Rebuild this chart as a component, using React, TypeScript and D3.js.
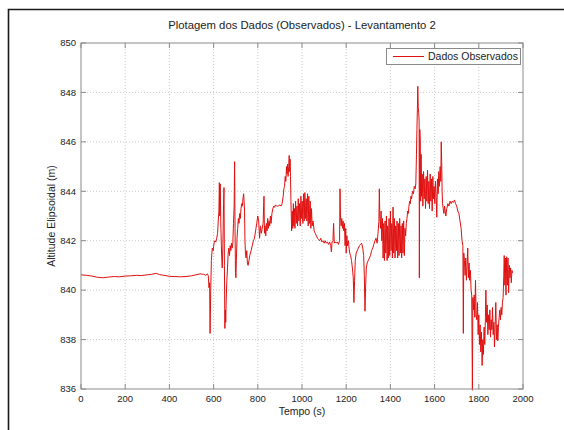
import React from "react";
import * as d3 from "d3";

const titleText = "Plotagem dos Dados (Observados) - Levantamento 2";
const xLabel = "Tempo (s)";
const yLabel = "Altitude Elipsoidal (m)";
const seriesName = "Dados Observados";

const xTicks = [0, 200, 400, 600, 800, 1000, 1200, 1400, 1600, 1800, 2000];
const yTicks = [836, 838, 840, 842, 844, 846, 848, 850];

const times = [
  0, 25, 50, 75, 100, 125, 150, 175, 200, 225, 250, 275, 300, 320, 340, 355, 375, 400, 425, 450, 475, 500, 520, 540, 555, 565, 572, 576, 579, 582, 584, 587, 590, 594, 598,
  602, 606, 610, 614, 618, 621, 624, 626, 628, 630, 633, 636, 639, 642, 645, 647, 649, 651, 653, 655, 657, 660, 663, 666, 669, 672, 675, 678, 681, 684, 687, 690, 693, 695, 697, 699,
  701, 703, 706, 709, 712, 715, 718, 721, 724, 727, 730, 733, 736, 738, 740, 742, 744, 747, 750, 753, 756, 760, 765, 770, 775, 780, 785, 790, 795,
  800, 804, 808, 812, 816, 820, 824, 828, 830, 833, 836, 839, 842, 845, 848, 851, 854, 857, 860, 864, 868, 872, 876, 880, 885, 890, 895,
  900, 905, 910, 915, 918, 921, 924, 927, 930, 932, 935, 937, 940, 942, 944, 946, 948, 950, 953, 956, 958, 961, 963, 966, 968, 971, 974, 977, 980, 983, 986, 989, 992, 995, 998,
  1001, 1004, 1007, 1010, 1013, 1016, 1019, 1022, 1025, 1028, 1031, 1034, 1037, 1040, 1043, 1046, 1050, 1055, 1060, 1065, 1070, 1075, 1080, 1085, 1090, 1095,
  1100, 1105, 1110, 1115, 1120, 1125, 1130, 1133, 1136, 1140, 1143, 1146, 1150, 1155, 1160, 1165, 1170, 1172, 1174, 1177, 1180, 1183, 1186, 1189, 1192, 1195, 1198,
  1200, 1203, 1206, 1210, 1213, 1216, 1220, 1224, 1228, 1232, 1235, 1238, 1241, 1245, 1250, 1255, 1260, 1265, 1270, 1275, 1279, 1282, 1285, 1288, 1291, 1295,
  1300, 1305, 1310, 1315, 1320, 1325, 1330, 1335, 1340, 1344, 1348, 1350, 1352, 1355, 1358, 1361, 1364, 1367, 1370, 1373, 1376, 1379, 1382, 1385, 1388, 1391, 1394, 1397,
  1400, 1403, 1406, 1409, 1412, 1415, 1418, 1421, 1424, 1427, 1430, 1433, 1436, 1439, 1442, 1445, 1448, 1451, 1454, 1457, 1460, 1463, 1466, 1469, 1472, 1475, 1478, 1481, 1484, 1487, 1490, 1493, 1496,
  1500, 1504, 1508, 1512, 1515, 1518, 1520, 1522, 1524, 1526, 1528, 1530, 1531, 1533, 1535, 1537, 1539, 1541, 1544, 1547, 1550, 1553, 1556, 1559, 1562, 1565, 1568, 1571, 1574, 1577, 1580, 1583, 1586, 1589, 1592, 1595, 1598,
  1601, 1604, 1607, 1610, 1613, 1616, 1619, 1622, 1625, 1628, 1630, 1632, 1634, 1636, 1639, 1642, 1645, 1648, 1651, 1655, 1660, 1665, 1670, 1675, 1680, 1685, 1690, 1695,
  1700, 1705, 1710, 1715, 1720, 1724, 1728, 1730, 1732, 1735, 1738, 1741, 1744, 1747, 1750, 1753, 1756, 1759, 1762, 1765, 1768, 1771, 1773, 1776, 1779, 1782, 1785, 1788, 1791, 1794, 1797,
  1800, 1803, 1806, 1809, 1812, 1815, 1818, 1821, 1824, 1827, 1830, 1832, 1835, 1838, 1841, 1844, 1847, 1850, 1853, 1856, 1859, 1862, 1865, 1868, 1871, 1874, 1877, 1880, 1883, 1886, 1889, 1892, 1895, 1898,
  1901, 1904, 1907, 1910, 1913, 1915, 1918, 1920, 1923, 1926, 1929, 1932, 1935, 1938, 1941, 1944, 1947, 1950, 1953,
];

const altitudes = [
  840.62, 840.6, 840.57, 840.52, 840.5, 840.53, 840.55, 840.54, 840.57, 840.58, 840.6, 840.59, 840.62, 840.64, 840.68, 840.63, 840.6, 840.56, 840.55, 840.54, 840.55, 840.58, 840.62, 840.66, 840.64, 840.6, 840.66, 840.58, 840.1, 840.3, 838.25, 840.0, 841.2, 841.7, 841.6,
  841.9, 842.0, 841.95, 842.1, 842.3, 842.8, 843.2, 844.35, 843.0, 844.3, 842.5, 841.5, 840.9, 841.8, 843.5, 844.15, 841.0, 838.45, 839.2, 838.7, 839.6, 840.4, 840.9, 841.5, 841.7, 841.4, 841.8, 841.6, 841.9, 841.7, 841.9, 842.7, 843.4, 845.2, 842.5, 840.7,
  840.5, 841.2, 842.1, 842.5, 842.9, 842.7, 843.1, 842.9, 843.3, 843.5, 843.4, 843.7, 843.9, 843.6, 843.2, 842.0, 841.5, 841.3, 841.6, 841.1, 841.0, 841.2, 841.45, 841.6, 841.8, 842.0, 842.1, 842.4, 842.7,
  843.0, 842.8, 842.1, 842.6, 842.3, 842.5, 842.7, 843.8, 842.3, 842.6, 842.2, 842.7, 842.4, 842.9, 842.5, 842.8, 842.6, 843.0, 842.7, 843.1, 843.3, 843.4, 843.35, 843.45, 843.4, 843.4, 843.42,
  843.45, 843.4, 843.5, 843.8, 844.1, 844.2, 844.6, 844.4, 845.0, 844.7, 845.1, 844.6, 845.0, 845.45, 844.8, 845.3, 844.6, 843.6, 842.4, 843.2, 842.5, 843.5, 842.6, 843.3, 842.5, 843.6, 842.7, 843.4, 842.6, 843.7, 842.8, 843.5, 842.6, 843.8, 842.9,
  843.6, 842.7, 843.9, 842.8, 843.95, 842.9, 843.7, 842.8, 843.9, 842.6, 843.8, 842.7, 843.6, 842.5, 843.3, 842.6, 842.8, 842.4, 842.3, 842.2, 842.1, 842.05, 842.0, 842.1, 841.95, 842.0,
  841.9, 842.0, 841.9, 841.95, 841.85, 841.95, 841.8, 841.55, 841.95, 842.0, 842.7, 841.9, 841.95, 841.9, 841.95, 841.85, 842.0, 844.1, 843.0, 842.6, 842.9, 842.5, 842.8, 842.4, 842.7, 841.8, 842.5,
  841.5, 842.2, 841.8, 842.0, 841.7, 841.5, 841.4, 841.2, 840.9, 840.5, 839.5, 840.4, 841.2, 841.5, 841.6, 841.7, 841.8, 841.85, 841.9, 841.7, 841.4, 840.6, 839.15, 840.2, 840.9, 841.1,
  841.2, 841.3, 841.4, 841.6, 841.7, 841.85, 842.0, 842.1, 841.9, 842.3, 842.8, 844.1, 843.0, 842.5, 843.2, 842.0, 842.9, 841.3, 842.7, 841.2, 842.8, 841.5, 843.0, 841.2, 842.6, 841.3, 842.9, 841.4,
  843.2, 841.6, 842.7, 841.3, 843.36, 841.5, 842.9, 841.3, 842.6, 841.6, 842.8, 841.3, 842.7, 841.4, 842.9, 841.5, 842.6, 841.3, 842.7, 841.5, 842.8, 841.4, 842.5, 842.2, 842.7, 842.9, 843.2, 843.1, 843.4, 843.6, 843.5, 843.8, 843.7,
  844.0, 843.9, 844.2, 844.1, 844.3, 845.5, 846.5, 847.3, 848.25, 847.4, 847.2, 846.8, 840.5, 846.5, 846.0, 843.6, 845.5, 843.8, 844.7, 843.4, 844.8, 843.7, 844.5, 843.3, 844.6, 843.6, 844.85, 843.5, 844.4, 843.3, 844.7, 843.6, 844.5, 843.2, 844.6, 843.7, 844.2,
  843.5, 844.4, 843.8, 842.95, 844.5, 843.9, 844.8, 844.2, 845.0, 844.4, 846.0, 845.2, 844.0, 843.5, 843.3, 843.1, 843.4, 843.2, 843.0, 843.3, 843.5, 843.4, 843.6, 843.5, 843.6, 843.55, 843.65, 843.5,
  843.4, 843.2, 843.1, 842.8, 842.5, 842.0, 841.8, 838.25, 841.5, 841.2, 840.6, 841.3, 840.4, 841.0, 841.7, 840.5, 841.1, 840.4, 840.8, 840.0, 839.8, 835.95, 839.7, 839.2, 839.8, 838.9, 840.4, 839.0, 838.8, 839.5, 838.2,
  839.0, 837.8, 838.6, 837.5, 838.3, 836.95, 838.0, 837.4, 838.5, 837.8, 838.9, 840.0, 838.7, 839.4, 838.2, 839.0, 838.4, 839.2, 838.1, 838.8, 838.4, 839.3, 838.2, 838.7, 837.7, 838.6, 839.5, 838.0, 838.6, 837.95, 838.5, 838.9, 839.2, 838.8,
  839.3, 839.0, 839.5, 839.7, 840.6, 841.4, 840.2, 841.3, 839.8, 841.35, 840.2, 841.3, 839.9, 841.0, 840.5, 840.9, 840.3, 840.8, 840.7,
];

const W = 564;
const H = 430;
const plot = { left: 81, right: 523, top: 43, bottom: 389 };
const FONT = "'Liberation Sans', Arial, sans-serif";

export default function App() {
  const x = d3.scaleLinear().domain([0, 2000]).range([plot.left, plot.right]);
  const y = d3.scaleLinear().domain([836, 850]).range([plot.bottom, plot.top]);
  const data = times.map((t, i) => [t, altitudes[i]] as [number, number]);
  const line = d3
    .line<[number, number]>()
    .x((d) => x(d[0]))
    .y((d) => y(d[1]));
  const axisColor = "#8a8a8a";
  const gridColor = "#bdbdbd";
  const tickLen = 5;

  return (
    <svg
      width={W}
      height={H}
      style={{ position: "absolute", left: 0, top: 0, background: "#fff" }}
      fontFamily={FONT}
    >
      <rect x={0} y={0} width={W} height={H} fill="#fff" />
      <path d={`M8.5,${H} V9.5 H${W}`} fill="none" stroke="#1a1a1a" strokeWidth={1.6} />

      {/* grid */}
      {xTicks.slice(1, -1).map((t) => (
        <line key={"gx" + t} x1={x(t)} x2={x(t)} y1={plot.top} y2={plot.bottom} stroke={gridColor} strokeWidth={0.8} strokeDasharray="1,2" />
      ))}
      {yTicks.slice(1, -1).map((t) => (
        <line key={"gy" + t} x1={plot.left} x2={plot.right} y1={y(t)} y2={y(t)} stroke={gridColor} strokeWidth={0.8} strokeDasharray="1,2" />
      ))}

      {/* data */}
      <path d={line(data) || ""} fill="none" stroke="#e01010" strokeWidth={1} strokeLinejoin="round" />

      {/* axes box & ticks */}
      <rect x={plot.left} y={plot.top} width={plot.right - plot.left} height={plot.bottom - plot.top} fill="none" stroke={axisColor} strokeWidth={1} />
      {xTicks.map((t) => (
        <g key={"xt" + t}>
          <line x1={x(t)} x2={x(t)} y1={plot.bottom} y2={plot.bottom - tickLen} stroke={axisColor} />
          <line x1={x(t)} x2={x(t)} y1={plot.top} y2={plot.top + tickLen} stroke={axisColor} />
          <text x={x(t)} y={402} textAnchor="middle" fontSize={9.5} fill="#222">
            {t}
          </text>
        </g>
      ))}
      {yTicks.map((t) => (
        <g key={"yt" + t}>
          <line x1={plot.left} x2={plot.left + tickLen} y1={y(t)} y2={y(t)} stroke={axisColor} />
          <line x1={plot.right} x2={plot.right - tickLen} y1={y(t)} y2={y(t)} stroke={axisColor} />
          <text x={76} y={y(t)} dy="0.35em" textAnchor="end" fontSize={9.5} fill="#222">
            {t}
          </text>
        </g>
      ))}

      {/* labels */}
      <text x={(plot.left + plot.right) / 2} y={28.5} textAnchor="middle" fontSize={11.3} fill="#222">
        {titleText}
      </text>
      <text x={(plot.left + plot.right) / 2} y={415} textAnchor="middle" fontSize={10.5} fill="#222">
        {xLabel}
      </text>
      <text transform={`translate(55,${(plot.top + plot.bottom) / 2}) rotate(-90)`} textAnchor="middle" fontSize={10.5} fill="#222">
        {yLabel}
      </text>

      {/* legend */}
      <rect x={386.5} y={48.5} width={134} height={16} fill="#fff" stroke={axisColor} strokeWidth={1} />
      <line x1={393} x2={424} y1={56.5} y2={56.5} stroke="#e01010" strokeWidth={1} />
      <text x={428} y={60} fontSize={10.5} fill="#222">
        {seriesName}
      </text>
    </svg>
  );
}
